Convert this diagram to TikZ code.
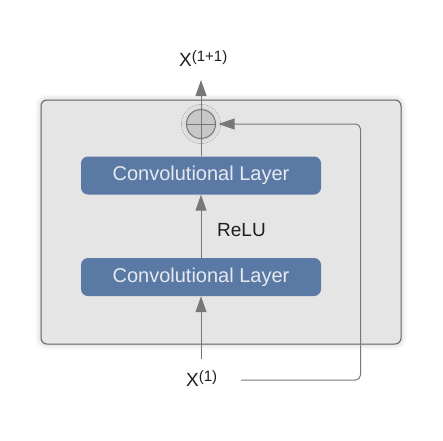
\documentclass[tikz,border=0pt]{standalone}
\usepackage{fontspec}
\setmainfont{Liberation Sans}
\usetikzlibrary{arrows.meta,shadows.blur}
\definecolor{boxblue}{RGB}{90,121,165}
\definecolor{boxtext}{RGB}{230,233,240}
\definecolor{outerfill}{RGB}{229,229,229}
\definecolor{outerline}{RGB}{100,100,100}
\definecolor{linegray}{RGB}{120,120,120}
\definecolor{addfill}{RGB}{200,200,200}
\definecolor{labelgray}{RGB}{30,30,30}
\tikzset{
  outerbox/.style={draw=outerline, fill=outerfill, line width=1pt, rounded corners=6pt,
    minimum width=360pt, minimum height=244pt, inner sep=0pt,
    blur shadow={shadow xshift=0pt, shadow yshift=0pt, shadow blur radius=6pt, shadow opacity=25}},
  convbox/.style={fill=boxblue, rounded corners=7pt, minimum width=240pt, minimum height=38pt,
    inner sep=0pt, text=boxtext, font=\fontsize{20}{24}\selectfont},
  addnode/.style={circle, draw=linegray, fill=addfill, line width=1pt, minimum size=29pt, inner sep=0pt,
    blur shadow={shadow xshift=0pt, shadow yshift=0pt, shadow blur radius=5pt, shadow opacity=15},
    path picture={\draw[linegray, line width=1pt]
      (path picture bounding box.north) -- (path picture bounding box.south)
      (path picture bounding box.west) -- (path picture bounding box.east);}},
  lbl/.style={text=labelgray, font=\fontsize{19}{23}\selectfont, inner sep=0pt, anchor=base west},
  conn/.style={draw=linegray, line width=1pt},
  arr/.style={conn, -{Triangle[length=16pt,width=11pt]}}
}
\newcommand{\supx}[1]{\raisebox{5pt}{\fontsize{15}{17}\selectfont #1}}
\begin{document}
\begin{tikzpicture}[x=1pt,y=-1pt]
\useasboundingbox (0,0) rectangle (443,440);
\node[outerbox] (block) at (221,222) {};
\node[convbox] (conv1) at (201,175.5) {Convolutional Layer};
\node[convbox] (conv2) at (201,277) {Convolutional Layer};
\node[addnode] (add) at (201,124) {};
\node[lbl] (relu) at (217,236) {ReLU};
\node[lbl] (xin) at (186,386) {X\supx{(1)}};
\node[lbl] (xout) at (179,66) {X\supx{(1+1)}};
\coordinate (inbottom) at (201,359);
\coordinate (outtip) at (201,80);
\coordinate (fbstart) at (241,380);
\coordinate (fbturn) at (360.5,124);
\draw[arr] (inbottom) -- (conv2.south);
\draw[arr] (conv2.north) -- (conv1.south);
\draw[conn] (conv1.north) -- (add.south);
\draw[arr] (add.north) -- (outtip);
\draw[arr, rounded corners=5pt, shorten >=2.5pt] (fbstart) -| (fbturn) -- (add.east);
\end{tikzpicture}
\end{document}
